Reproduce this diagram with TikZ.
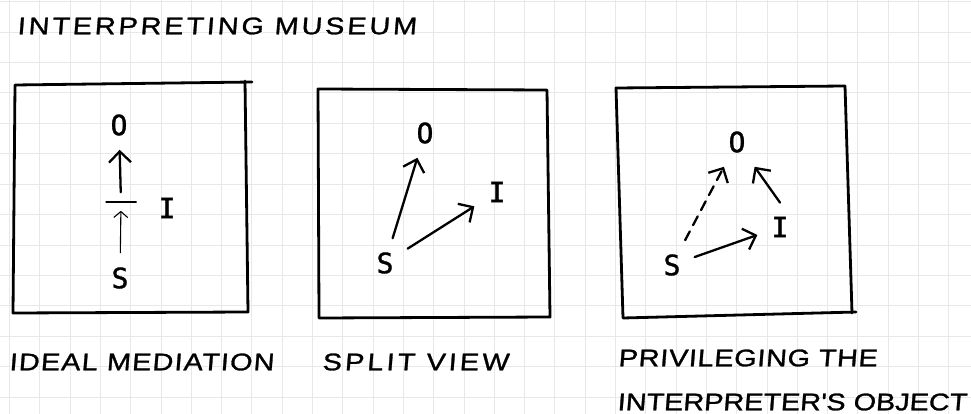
\documentclass[tikz,border=0pt]{standalone}
\usepackage{fontspec}
\newfontfamily\handfont[FakeSlant=0.08, FakeStretch=1.2, FakeBold=1.2]{Liberation Sans}
\newfontfamily\letterfont[FakeBold=1.2]{DejaVu Sans Mono}
\usetikzlibrary{arrows.meta}

\tikzset{
  gridline/.style={draw=black!9, line width=1pt},
  frame/.style={line width=2.8pt, line join=round, line cap=round},
  hand/.style={font=\fontsize{24}{28}\handfont\addfontfeature{LetterSpace=#1},
               inner sep=0pt, anchor=west},
  letter/.style={font=\fontsize{28}{32}\letterfont, inner sep=14pt},
  bar/.style={draw, line width=1.6pt, minimum width=31pt, minimum height=0pt, inner sep=0pt},
  arrow/.style={-{Straight Barb[length=11pt, width=22pt]}, line width=2.3pt, line cap=round},
  thinarrow/.style={-{Straight Barb[length=6pt, width=14pt]}, line width=1.1pt}
}

\begin{document}
\begin{tikzpicture}[x=1pt, y=-1pt]
  \useasboundingbox (0,0) rectangle (971,414);
  % squared paper
  \foreach \k in {0,...,31}
    \draw[gridline] ({9.5+30.3*\k},0) -- ({9.5+30.3*\k},414);
  \foreach \k in {0,...,13}
    \draw[gridline] (0,{1.8+30.4*\k}) -- (971,{1.8+30.4*\k});

  \node[hand=12] (title) at (17,26) {INTERPRETING MUSEUM};

  % frames
  \draw[frame] (252,82) -- (15,85) -- (13,313) -- (248,312) -- (245,81);
  \draw[frame] (318,89) -- (547,90) -- (550,317) -- (319,318) -- cycle;
  \draw[frame] (845,86) -- (616,88) -- (623,318) -- (856,312);
  \draw[frame] (845,86) -- (852,313);

  % ideal mediation
  \node[letter] (o1) at (119,125) {O};
  \node[bar] (bar1) at (121,202) {};
  \node[letter] (i1) at (167,208) {I};
  \node[letter] (s1) at (120,278) {S};
  \draw[arrow, shorten <=9pt] (bar1) -- (o1);
  \draw[thinarrow, shorten >=8pt] (s1) -- (bar1);

  % split view
  \node[letter] (o2) at (425,133) {O};
  \node[letter] (i2) at (497,192) {I};
  \node[letter] (s2) at (385,263) {S};
  \draw[arrow] (s2) -- (o2);
  \draw[arrow] (s2) -- (i2);

  % privileging the interpreter's object
  \node[letter] (o3) at (737,142) {O};
  \node[letter] (i3) at (780,227) {I};
  \node[letter] (s3) at (672,265) {S};
  \draw[arrow, dashed, dash pattern=on 10pt off 7pt] (s3) -- (o3);
  \draw[arrow] (i3.north) -- (o3);
  \draw[arrow] (s3) -- (i3);

  % captions
  \node[hand=5] (cap1) at (9,362) {IDEAL MEDIATION};
  \node[hand=13] (cap2) at (322,362) {SPLIT VIEW};
  \node[hand=3] (cap3a) at (618,358) {PRIVILEGING THE};
  \node[hand=0] (cap3b) at (617,402) {INTERPRETER'S OBJECT};
\end{tikzpicture}
\end{document}
